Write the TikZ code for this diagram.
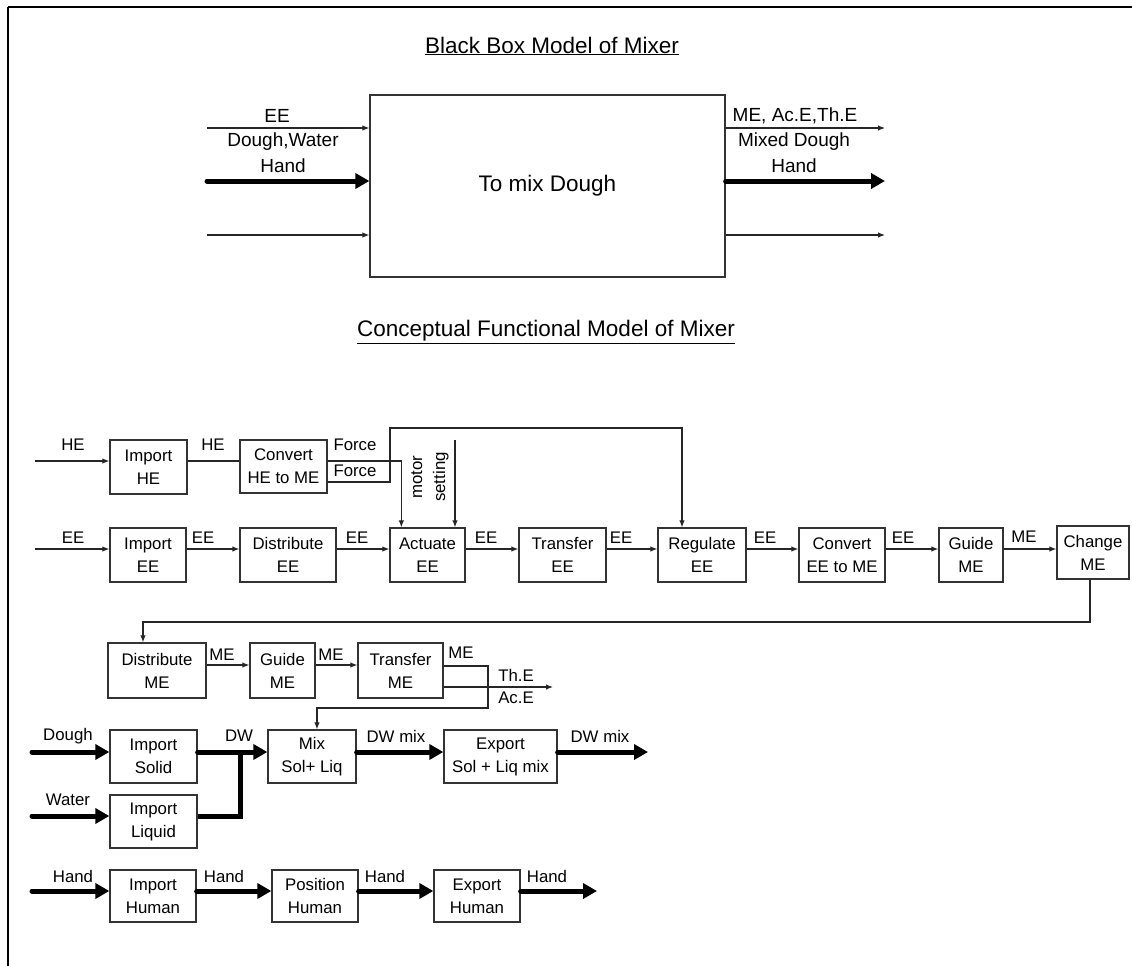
\documentclass[tikz,border=0pt]{standalone}
\usepackage{fontspec}
\setmainfont{Liberation Sans}
\usetikzlibrary{arrows.meta,calc}
\newcommand\myfs{\fontsize{16.8}{23}\selectfont}
\newcommand\mylab{\fontsize{19}{24}\selectfont}
\newcommand\mybig{\fontsize{22.5}{27}\selectfont}
\begin{document}
\begin{tikzpicture}[x=1pt,y=-1pt,
  fb/.style={draw=black!80, line width=1.3pt, align=center, inner sep=0pt, font=\myfs},
  tarr/.style={draw=black!85, line width=1.2pt, -{Latex[length=7pt,width=5.5pt]}},
  tln/.style={draw=black!85, line width=1.2pt},
  karr/.style={line width=5pt, line cap=round, -{Triangle[length=14pt,width=15pt]}},
  kln/.style={line width=5pt, line cap=round},
  lab/.style={font=\myfs, inner sep=0pt},
  blab/.style={font=\mylab, inner sep=0pt},
  ttl/.style={font=\mybig, inner sep=0pt}]
\useasboundingbox (0,0) rectangle (1132,966);
\fill[white] (0,0) rectangle (1132,966);
% frame
\draw[line width=2.5pt] (8,7) -- (1132,7);
\draw[line width=2.5pt] (8,7) -- (8,966);

% ---------- black box model ----------
\node[ttl] (t1) at (552,46) {\underline{Black Box Model of Mixer}};
\node[draw=black!80, line width=1.3pt, minimum width=355, minimum height=182, font=\mybig] (bb) at (547.5,186) {To mix Dough};
\coordinate (bi1) at (207,128);
\coordinate (bi2) at (207,181);
\coordinate (bi3) at (207,235);
\coordinate (bo1) at (885,128);
\coordinate (bo2) at (885,181);
\coordinate (bo3) at (885,235);
\draw[tarr] (bi1) -- (bi1 -| bb.west);
\draw[karr] (bi2) -- (bi2 -| bb.west);
\draw[tarr] (bi3) -- (bi3 -| bb.west);
\draw[tarr] (bo1 -| bb.east) -- (bo1);
\draw[karr] (bo2 -| bb.east) -- (bo2);
\draw[tarr] (bo3 -| bb.east) -- (bo3);
\node[blab] (l1) at (277,116) {EE};
\node[blab] (l2) at (283,142) {Dough,Water};
\node[blab] (l3) at (283,166) {Hand};
\node[blab] (r1) at (795,116) {ME, Ac.E,Th.E};
\node[blab] (r2) at (794,142) {Mixed Dough};
\node[blab] (r3) at (794,166) {Hand};

% ---------- conceptual functional model ----------
\node[ttl] (t2) at (546,332) {\underline{Conceptual Functional Model of Mixer}};

% HE row
\node[fb, minimum width=77, minimum height=54] (ihe) at (148.5,467) {Import\\HE};
\node[fb, minimum width=87, minimum height=53] (che) at (283.5,466.5) {Convert\\HE to ME};
% EE row
\node[fb, minimum width=76, minimum height=54] (iee) at (148,555) {Import\\EE};
\node[fb, minimum width=96, minimum height=54] (dee) at (288,555) {Distribute\\EE};
\node[fb, minimum width=75, minimum height=54] (act) at (427.5,555) {Actuate\\EE};
\node[fb, minimum width=87, minimum height=54] (tee) at (562.5,555) {Transfer\\EE};
\node[fb, minimum width=88, minimum height=54] (reg) at (702,555) {Regulate\\EE};
\node[fb, minimum width=86, minimum height=54] (cee) at (842,555) {Convert\\EE to ME};
\node[fb, minimum width=64, minimum height=54] (gme) at (971,555) {Guide\\ME};
\node[fb, minimum width=72, minimum height=53] (chg) at (1093,552.5) {Change\\ME};
% ME row
\node[fb, minimum width=98, minimum height=55] (dme) at (157,670.5) {Distribute\\ME};
\node[fb, minimum width=65, minimum height=55] (gmb) at (282.5,670.5) {Guide\\ME};
\node[fb, minimum width=85, minimum height=55] (tme) at (400.5,670.5) {Transfer\\ME};
% DW row
\node[fb, minimum width=87, minimum height=53] (isol) at (153.5,756.5) {Import\\Solid};
\node[fb, minimum width=87, minimum height=53] (iliq) at (153.5,821.5) {Import\\Liquid};
\node[fb, minimum width=88, minimum height=53] (mix) at (312,756.5) {Mix\\Sol+ Liq};
\node[fb, minimum width=113, minimum height=53] (exp) at (500.5,756.5) {Export\\Sol + Liq mix};
% Hand row
\node[fb, minimum width=86, minimum height=52] (ihu) at (153,896) {Import\\Human};
\node[fb, minimum width=86, minimum height=52] (phu) at (315,896) {Position\\Human};
\node[fb, minimum width=86, minimum height=52] (ehu) at (477,896) {Export\\Human};

% free ends
\coordinate (hein) at (35,461);
\coordinate (eein) at (35,549);
\coordinate (ms) at (455,440);
\coordinate (tout) at (553,687);
\coordinate (dgin) at (32,752);
\coordinate (wtin) at (32,816);
\coordinate (dwout) at (648,752);
\coordinate (hdin) at (32,891);
\coordinate (hdout) at (597,891);

% HE connectors
\draw[tarr] (hein) -- (hein -| ihe.west);
\draw[tln] (ihe.east |- hein) -- (che.west |- hein);
\draw[tarr] (che.east |- 0,461) -| ([xshift=12pt]act.north west);
\draw[tarr] (che.east |- 0,482) -- (390,482) -- (390,428) -| ([xshift=-20pt]reg.north);
\draw[tarr] (ms) -- (ms |- act.north);
\node[font=\myfs, rotate=90, align=center, inner sep=0pt] (mst) at (430,477) {motor\\setting};
\node[lab] (hel1) at (73,445) {HE};
\node[lab] (hel2) at (213,445) {HE};
\node[lab] (fo1) at (355,445) {Force};
\node[lab] (fo2) at (355,471) {Force};

% EE connectors
\draw[tarr] (eein) -- (eein -| iee.west);
\draw[tarr] (iee.east |- eein) -- (dee.west |- eein);
\draw[tarr] (dee.east |- eein) -- (act.west |- eein);
\draw[tarr] (act.east |- eein) -- (tee.west |- eein);
\draw[tarr] (tee.east |- eein) -- (reg.west |- eein);
\draw[tarr] (reg.east |- eein) -- (cee.west |- eein);
\draw[tarr] (cee.east |- eein) -- (gme.west |- eein);
\draw[tarr] (gme.east |- eein) -- (chg.west |- eein);
\node[lab] (eel1) at (73,538) {EE};
\node[lab] (eel2) at (203,538) {EE};
\node[lab] (eel3) at (357,538) {EE};
\node[lab] (eel4) at (486,538) {EE};
\node[lab] (eel5) at (621,538) {EE};
\node[lab] (eel6) at (765,538) {EE};
\node[lab] (eel7) at (903,538) {EE};
\node[lab] (mel0) at (1024,537) {ME};

% feedback Change ME -> Distribute ME
\draw[tarr] ([xshift=-3pt]chg.south) |- (143,622) -- ([xshift=-14pt]dme.north);

% ME row connectors
\draw[tarr] (dme.east |- 0,665) -- (gmb.west |- 0,665);
\draw[tarr] (gmb.east |- 0,665) -- (tme.west |- 0,665);
\draw[tarr] (tme.east |- 0,666) -- (488,666) -- (488,708) -| ([xshift=5pt]mix.north);
\draw[tarr] (tme.east |- tout) -- (tout);
\node[lab] (mel1) at (222,655) {ME};
\node[lab] (mel2) at (331,655) {ME};
\node[lab] (mel3) at (461,653) {ME};
\node[lab] (the) at (516,675) {Th.E};
\node[lab] (ace) at (516,698) {Ac.E};

% DW row
\draw[karr] (dgin) -- (dgin -| isol.west);
\draw[karr] (wtin) -- (wtin -| iliq.west);
\draw[karr] (isol.east |- dgin) -- (mix.west |- dgin);
\draw[kln, line cap=butt] (iliq.east |- wtin) -| (240,752);
\draw[karr] (mix.east |- dgin) -- (exp.west |- dgin);
\draw[karr] (exp.east |- dgin) -- (dwout);
\node[lab] (dgl) at (68,736) {Dough};
\node[lab] (wtl) at (68,800) {Water};
\node[lab] (dwl) at (239,736) {DW};
\node[lab] (dwm1) at (396,736) {DW mix};
\node[lab] (dwm2) at (600,736) {DW mix};

% Hand row
\draw[karr] (hdin) -- (hdin -| ihu.west);
\draw[karr] (ihu.east |- hdin) -- (phu.west |- hdin);
\draw[karr] (phu.east |- hdin) -- (ehu.west |- hdin);
\draw[karr] (ehu.east |- hdin) -- (hdout);
\node[lab] (hd1) at (73,876) {Hand};
\node[lab] (hd2) at (224,876) {Hand};
\node[lab] (hd3) at (385,876) {Hand};
\node[lab] (hd4) at (547,876) {Hand};
\end{tikzpicture}
\end{document}
